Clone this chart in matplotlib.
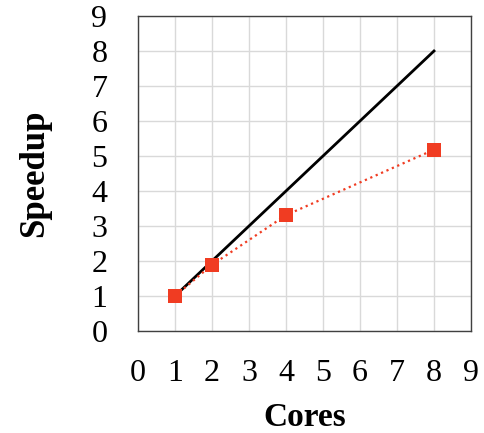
import matplotlib
matplotlib.use("Agg")
import matplotlib.pyplot as plt

# ---- data ----
IDEAL_CORES = [1, 8]
IDEAL_SPEEDUP = [1, 8]
CORES = [1, 2, 4, 8]
SPEEDUP = [1.0, 1.89, 3.31, 5.18]
TICKS = list(range(10))

RED = "#f03c22"
plt.rcParams["font.family"] = ["Liberation Serif", "DejaVu Serif"]

fig = plt.figure(figsize=(4.85, 4.33), dpi=100)
ax = fig.add_axes([138 / 485, 1 - 331 / 433, (471 - 138) / 485, (331 - 16) / 433])

ax.plot(IDEAL_CORES, IDEAL_SPEEDUP, color="black", lw=2.0, zorder=3)
ax.plot(CORES, SPEEDUP, ls=":", color=RED, lw=1.6, marker="s", ms=9.5,
        markeredgewidth=0, zorder=4)

ax.set_xlim(0, 9)
ax.set_ylim(0, 9)
ax.set_xticks(TICKS)
ax.set_yticks(TICKS)
ax.tick_params(length=0, labelsize=23, pad=20)
ax.tick_params(axis="y", pad=22)
ax.grid(True, color="#d9d9d9", lw=1.0)
ax.set_axisbelow(True)
for s in ax.spines.values():
    s.set_color("#404040")
    s.set_linewidth(1.0)

ax.set_xlabel("Cores", fontsize=24, fontweight="bold", labelpad=10)
ax.set_ylabel("Speedup", fontsize=25, fontweight="bold", labelpad=29)

fig.savefig("out.png", dpi=100)
